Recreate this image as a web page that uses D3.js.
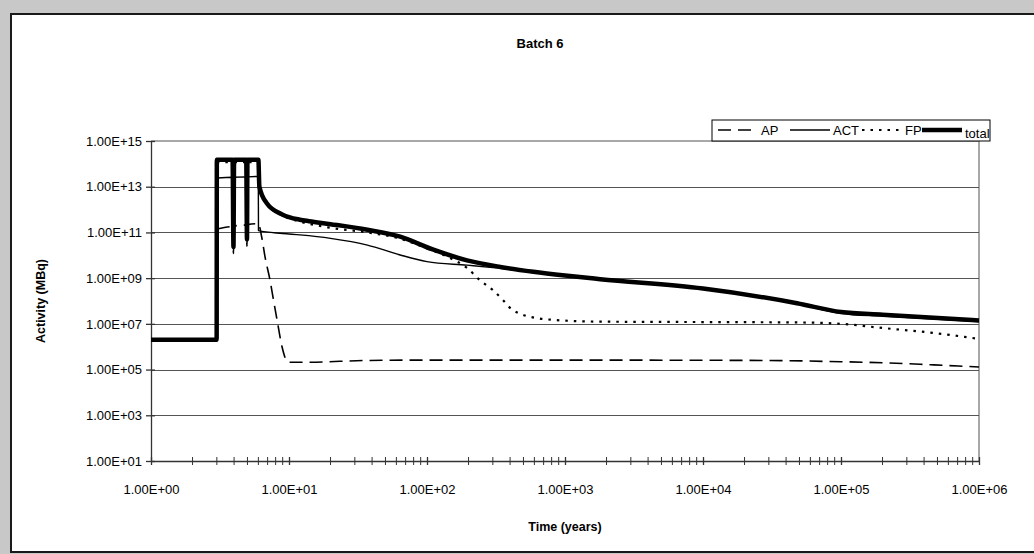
<!DOCTYPE html>
<html>
<head>
<meta charset="utf-8">
<script src="https://cdnjs.cloudflare.com/ajax/libs/d3/7.8.5/d3.min.js"></script>
<style>
  html, body { margin: 0; padding: 0; background: #c8c8c8; }
  svg { display: block; font-family: "Liberation Sans", Arial, sans-serif; }
</style>
</head>
<body>
<svg id="chart" width="1034" height="554"></svg>
<script>
// ---- data (time in years, activity in MBq) ----
const titleText = "Batch 6";
const xTickValues = [1, 10, 100, 1000, 10000, 100000, 1000000];
const yTickValues = [1e1, 1e3, 1e5, 1e7, 1e9, 1e11, 1e13, 1e15];
const seriesNames = ["AP", "ACT", "FP", "total"];

const apTimes  = [3, 3.9, 3.96, 4.0, 4.9, 4.96, 5.0, 6.0, 6.35, 6.71, 7.28, 7.7, 8.19, 8.9, 9.84, 14, 36, 100, 1000, 30000, 100000, 200000, 470000, 1000000];
const apValues = [1.4e11, 1.8e11, 1.2e10, 1.9e11, 2.1e11, 2.5e10, 2.2e11, 2.4e11, 6e10, 8.3e9, 8.3e8, 1.2e8, 1.5e7, 1e6, 2.1e5, 2.1e5, 2.5e5, 2.6e5, 2.6e5, 2.5e5, 2.2e5, 2.0e5, 1.6e5, 1.3e5];

const actTimes  = [3, 3.9, 3.96, 4.0, 4.9, 4.96, 5.0, 5.99, 6.01, 9, 12, 20, 37, 64, 100, 195, 300, 590, 1000, 10000, 48000, 100000, 200000, 1000000];
const actValues = [2.4e13, 2.6e13, 2.2e10, 2.6e13, 2.7e13, 4.5e10, 2.7e13, 2.8e13, 1.2e11, 9e10, 7.8e10, 5.5e10, 2.8e10, 1.03e10, 5.3e9, 3.7e9, 2.9e9, 1.8e9, 1.25e9, 3.3e8, 7.5e7, 2.9e7, 2.2e7, 1.25e7];

const fpTimes  = [3, 3.9, 3.96, 4.0, 4.9, 4.96, 5.0, 6.0, 6.1, 6.9, 9, 12, 20, 37, 64, 100, 147, 195, 241, 300, 355, 400, 495, 620, 815, 1800, 10000, 50000, 100000, 200000, 470000, 1000000];
const fpValues = [1.2e14, 1.2e14, 2.2e10, 1.2e14, 1.2e14, 4.5e10, 1.2e14, 1.2e14, 9.8e12, 1.85e12, 5.4e11, 3e11, 1.6e11, 1e11, 5.3e10, 2.0e10, 7.6e9, 2.8e9, 8.3e8, 3e8, 1.1e8, 5e7, 2.5e7, 1.8e7, 1.5e7, 1.25e7, 1.2e7, 1.15e7, 1e7, 6.6e6, 4e6, 2.2e6];

const totalTimes  = [1, 2.99, 3, 3.9, 3.96, 4.0, 4.9, 4.96, 5.0, 6.0, 6.1, 6.9, 9, 12, 14, 20, 37, 64, 110, 195, 340, 590, 1000, 1800, 10000, 48000, 100000, 200000, 1000000];
const totalValues = [2e6, 2e6, 1.5e14, 1.5e14, 2.3e10, 1.5e14, 1.5e14, 5e10, 1.5e14, 1.5e14, 1e13, 1.9e12, 6e11, 3.6e11, 3.1e11, 2.3e11, 1.3e11, 6.5e10, 1.8e10, 6e9, 3.1e9, 1.9e9, 1.3e9, 9e8, 3.5e8, 8e7, 3.3e7, 2.5e7, 1.4e7];

// ---- layout ----
const svg = d3.select("#chart");
const W = 1034, H = 554;
const plot = { left: 151, right: 979, top: 141, bottom: 461 };

svg.append("rect").attr("x", 0).attr("y", 0).attr("width", W).attr("height", H).attr("fill", "#c8c8c8");
svg.append("rect").attr("x", 11).attr("y", 14).attr("width", W + 10).attr("height", 538)
   .attr("fill", "#fff").attr("stroke", "#1a1a1a").attr("stroke-width", 2);

const x = d3.scaleLog().domain([1, 1e6]).range([plot.left, plot.right]);
const y = d3.scaleLog().domain([1e1, 1e15]).range([plot.bottom, plot.top]);

const fmtExp = v => {
  const e = Math.round(Math.log10(v));
  return "1.00E+" + (e < 10 ? "0" + e : "" + e);
};

// plot area frame (top/right gray)
svg.append("path")
   .attr("d", `M${plot.left},${plot.top}H${plot.right}V${plot.bottom}`)
   .attr("fill", "none").attr("stroke", "#8c8c8c").attr("stroke-width", 1.5);

// horizontal gridlines
svg.append("g").selectAll("line")
  .data(yTickValues.filter(v => v > 1e1 && v < 1e15))
  .join("line")
  .attr("x1", plot.left).attr("x2", plot.right)
  .attr("y1", d => Math.round(y(d)) + 0.5).attr("y2", d => Math.round(y(d)) + 0.5)
  .attr("stroke", "#555").attr("stroke-width", 1);

// x axis
const xMinor = [];
for (let e = 0; e < 6; e++) for (let k = 2; k <= 9; k++) xMinor.push(k * Math.pow(10, e));
const xAxis = d3.axisBottom(x).tickValues(xTickValues).tickFormat(fmtExp).tickSize(4).tickSizeOuter(0);
const gx = svg.append("g").attr("transform", `translate(0,${plot.bottom})`).call(xAxis);
gx.select(".domain").attr("stroke", "#333").attr("stroke-width", 1.3);
gx.selectAll(".tick line").attr("y1", -4).attr("stroke", "#333").attr("stroke-width", 1.3);
gx.selectAll(".tick text").attr("y", 24).attr("font-size", 13).attr("fill", "#000")
  .attr("font-family", "Liberation Sans, Arial, sans-serif");
svg.append("g").selectAll("line").data(xMinor).join("line")
  .attr("x1", d => x(d)).attr("x2", d => x(d))
  .attr("y1", plot.bottom - 4).attr("y2", plot.bottom + 4)
  .attr("stroke", "#333").attr("stroke-width", 1);

// y axis
const yAxis = d3.axisLeft(y).tickValues(yTickValues).tickFormat(fmtExp).tickSize(5).tickSizeOuter(0);
const gy = svg.append("g").attr("transform", `translate(${plot.left},0)`).call(yAxis);
gy.select(".domain").attr("stroke", "#333").attr("stroke-width", 1.3);
gy.selectAll(".tick line").attr("x1", 4).attr("stroke", "#333").attr("stroke-width", 1.3);
gy.selectAll(".tick text").attr("x", -9).attr("font-size", 13).attr("fill", "#000")
  .attr("font-family", "Liberation Sans, Arial, sans-serif");

// axis titles and chart title
svg.append("text").attr("x", 540).attr("y", 48).attr("text-anchor", "middle")
   .attr("font-size", 13).attr("font-weight", "bold").text(titleText);
svg.append("text").attr("x", 565).attr("y", 531).attr("text-anchor", "middle")
   .attr("font-size", 12.5).attr("font-weight", "bold").text("Time (years)");
svg.append("text").attr("transform", `translate(45,${(plot.top + plot.bottom) / 2}) rotate(-90)`)
   .attr("text-anchor", "middle").attr("font-size", 12.5).attr("font-weight", "bold").text("Activity (MBq)");

// series
const styles = {
  AP:    { width: 1.6, dash: "13,7" },
  ACT:   { width: 1.4, dash: null },
  FP:    { width: 2.2, dash: "2.5,6" },
  total: { width: 4.5, dash: null }
};
const seriesData = {
  AP: apTimes.map((t, i) => [t, apValues[i]]),
  ACT: actTimes.map((t, i) => [t, actValues[i]]),
  FP: fpTimes.map((t, i) => [t, fpValues[i]]),
  total: totalTimes.map((t, i) => [t, totalValues[i]])
};
const line = d3.line().x(d => x(d[0])).y(d => y(d[1])).curve(d3.curveMonotoneX);
svg.append("clipPath").attr("id", "plotclip").append("rect")
  .attr("x", plot.left).attr("y", plot.top - 5).attr("width", plot.right - plot.left + 3).attr("height", plot.bottom - plot.top + 5);
const gs = svg.append("g").attr("clip-path", "url(#plotclip)");
["AP", "ACT", "FP", "total"].forEach(name => {
  gs.append("path").datum(seriesData[name])
    .attr("d", line).attr("fill", "none").attr("stroke", "#000")
    .attr("stroke-width", styles[name].width)
    .attr("stroke-linejoin", "round")
    .attr("stroke-dasharray", styles[name].dash);
});

// legend
const legTop = 120, legH = 21;
const lg = svg.append("g");
lg.append("rect").attr("x", 712).attr("y", legTop).attr("width", 278).attr("height", legH)
  .attr("fill", "#fff").attr("stroke", "#000").attr("stroke-width", 1);
const legendX = [718, 790, 862, 922];
seriesNames.forEach((name, i) => {
  const lx = legendX[i];
  lg.append("line").attr("x1", lx).attr("x2", lx + 40).attr("y1", legTop + 10).attr("y2", legTop + 10)
    .attr("stroke", "#000").attr("stroke-width", styles[name].width)
    .attr("stroke-dasharray", styles[name].dash);
  lg.append("text").attr("x", lx + 43).attr("y", legTop + (name === "total" ? 18 : 15))
    .attr("font-size", 13).text(name);
});
</script>
</body>
</html>
